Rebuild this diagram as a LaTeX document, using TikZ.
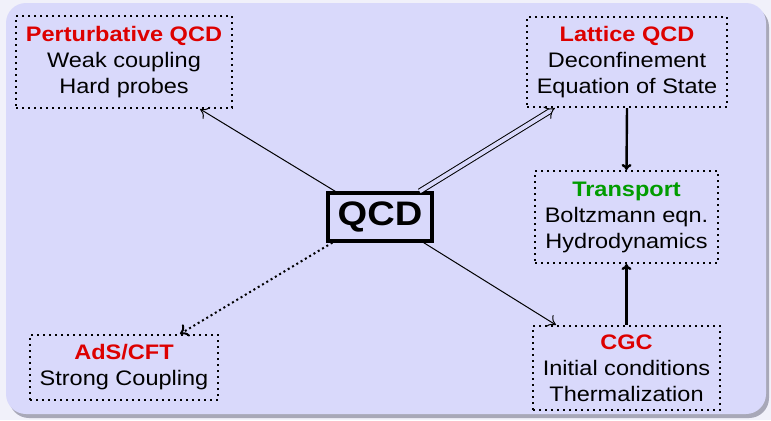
\documentclass[tikz,border=0pt]{standalone}
\usepackage{fontspec}
\setmainfont{Liberation Sans}[FakeStretch=1.12]
\usetikzlibrary{arrows.meta,calc}
\definecolor{panel}{HTML}{D9D9FB}
\definecolor{outerbg}{HTML}{F1F1FA}
\definecolor{panelshadow}{HTML}{A8A8B8}
\definecolor{hred}{HTML}{DD0000}
\definecolor{hgreen}{HTML}{009C00}
\begin{document}
\begin{tikzpicture}[x=0.5pt,y=-0.5pt,
  infobox/.style={draw, line width=1pt, dash pattern=on 1pt off 2pt, align=center, inner sep=0pt,
    font=\fontsize{10.5}{13}\selectfont},
  thinarrow/.style={draw, line width=0.5pt, -{To[length=4pt,width=7pt]}},
  thickarrow/.style={draw, line width=1.2pt, -{To[length=3pt,width=5pt]}},
]
% background
\fill[outerbg] (0,0) rectangle (771,420);
\useasboundingbox (0,0) rectangle (771,420);
\fill[panelshadow, rounded corners=10] (9,7) rectangle (769,418);
\fill[panel, rounded corners=10] (6,3) rectangle (766,414);

% nodes
\node[infobox, minimum width=108pt, minimum height=46pt] (pert) at (124,62)
  {\textcolor{hred}{\bfseries Perturbative QCD}\\Weak coupling\\Hard probes};
\node[infobox, minimum width=100pt, minimum height=45pt] (latt) at (627,62)
  {\textcolor{hred}{\bfseries Lattice QCD}\\Deconfinement\\Equation of State};
\node[infobox, minimum width=91.5pt, minimum height=46pt] (trans) at (626.5,217)
  {\textcolor{hgreen}{\bfseries Transport}\\Boltzmann eqn.\\Hydrodynamics};
\node[infobox, minimum width=93.5pt, minimum height=42pt] (cgc) at (626.5,368)
  {\textcolor{hred}{\bfseries CGC}\\Initial conditions\\Thermalization};
\node[infobox, minimum width=94pt, minimum height=32.5pt] (ads) at (124,367.5)
  {\textcolor{hred}{\bfseries AdS/CFT}\\Strong Coupling};
\node[draw, line width=1.6pt, inner sep=0pt, minimum width=52pt, minimum height=24pt,
  font=\fontsize{17}{20}\selectfont\bfseries] (qcd) at (380,217) {QCD};

% connectors
\draw[thinarrow] ($(qcd.north west)+(9,0)$) -- ($(pert.south east)+(-33,0)$);
\draw[line width=0.5pt, double=panel, double distance=2pt, -{Implies}] ($(qcd.north east)+(-14,0)$) -- ($(latt.south west)+(29,0)$);
\draw[thickarrow] (latt.south) -- (trans.north);
\draw[thickarrow] (cgc.north) -- (trans.south);
\draw[thinarrow] ($(qcd.south east)+(-10,0)$) -- ($(cgc.north west)+(24,0)$);
\draw[thinarrow, line width=1pt, dash pattern=on 1pt off 1.5pt] ($(qcd.south west)+(6,0)$) -- ($(ads.north east)+(-39,0)$);
\end{tikzpicture}
\end{document}
